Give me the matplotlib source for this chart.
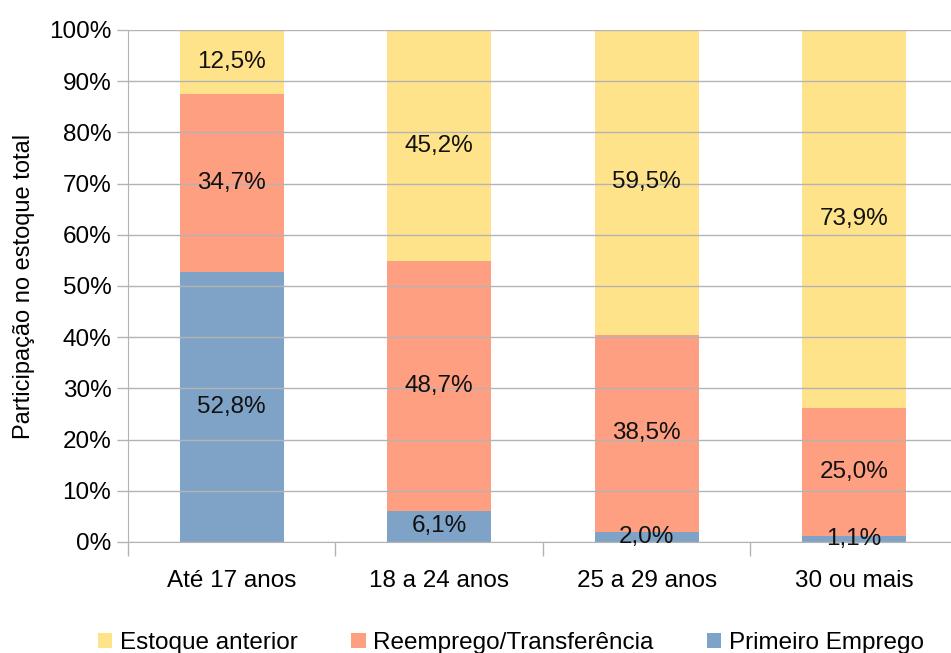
import numpy as np
import matplotlib.pyplot as plt

plt.rcParams['font.family'] = ['Liberation Sans', 'DejaVu Sans']
plt.rcParams['font.size'] = 17.5

categorias = ['Até 17 anos', '18 a 24 anos', '25 a 29 anos', '30 ou mais']
primeiro = [52.8, 6.1, 2.0, 1.1]
reemprego = [34.7, 48.7, 38.5, 25.0]
estoque = [12.5, 45.2, 59.5, 73.9]
yticks = [0, 10, 20, 30, 40, 50, 60, 70, 80, 90, 100]

cor_estoque = '#ffe38b'
cor_reemp = '#ff9f82'
cor_prim = '#7fa3c6'

fig = plt.figure(figsize=(9.51, 6.53), dpi=100)
ax = fig.add_axes([128/951, 111/653, 823/951, 512/653])

x = np.arange(len(categorias))
w = 0.5
b1 = ax.bar(x, primeiro, w, color=cor_prim, label='Primeiro Emprego', zorder=1)
b2 = ax.bar(x, reemprego, w, bottom=primeiro, color=cor_reemp,
            label='Reemprego/Transferência', zorder=1)
base3 = np.array(primeiro) + np.array(reemprego)
b3 = ax.bar(x, estoque, w, bottom=base3, color=cor_estoque,
            label='Estoque anterior', zorder=1)

# rótulos no meio de cada segmento
for barras, vals in [(b1, primeiro), (b2, reemprego), (b3, estoque)]:
    for r, v in zip(barras, vals):
        ax.text(r.get_x() + r.get_width()/2, r.get_y() + r.get_height()/2,
                ('%.1f%%' % v).replace('.', ','), ha='center', va='center',
                fontsize=17.5, color='#111111', zorder=3)

ax.set_ylim(0, 100)
ax.set_xlim(-0.5, 3.5 - 7/208)
ax.set_yticks(yticks)
ax.set_yticklabels(['%d%%' % t for t in yticks])
ax.set_xticks(x)
ax.set_xticklabels(categorias)
ax.set_xticks(np.arange(-0.5, 3.5, 1), minor=True)
ax.tick_params(axis='x', which='major', length=0, pad=20)
ax.tick_params(axis='x', which='minor', length=10, color='#b3b3b3', width=1)
ax.tick_params(axis='y', length=8, color='#b3b3b3', width=1, pad=4)
ax.yaxis.grid(True, color='#b3b3b3', linewidth=1, zorder=2)
ax.set_axisbelow(False)
for s in ['top', 'right']:
    ax.spines[s].set_visible(False)
ax.spines['left'].set_color('#b3b3b3')
ax.spines['bottom'].set_color('#b3b3b3')

ax.set_ylabel('Participação no estoque total', fontsize=17, labelpad=10)

h = [b3, b2, b1]
fig.legend(h, [hh.get_label() for hh in h], loc='lower center', ncol=3,
           frameon=False, bbox_to_anchor=(0.537, -0.035), handlelength=0.6,
           handleheight=0.6, handletextpad=0.3, columnspacing=2.2, fontsize=17.5)

fig.savefig('out.png', dpi=100)
